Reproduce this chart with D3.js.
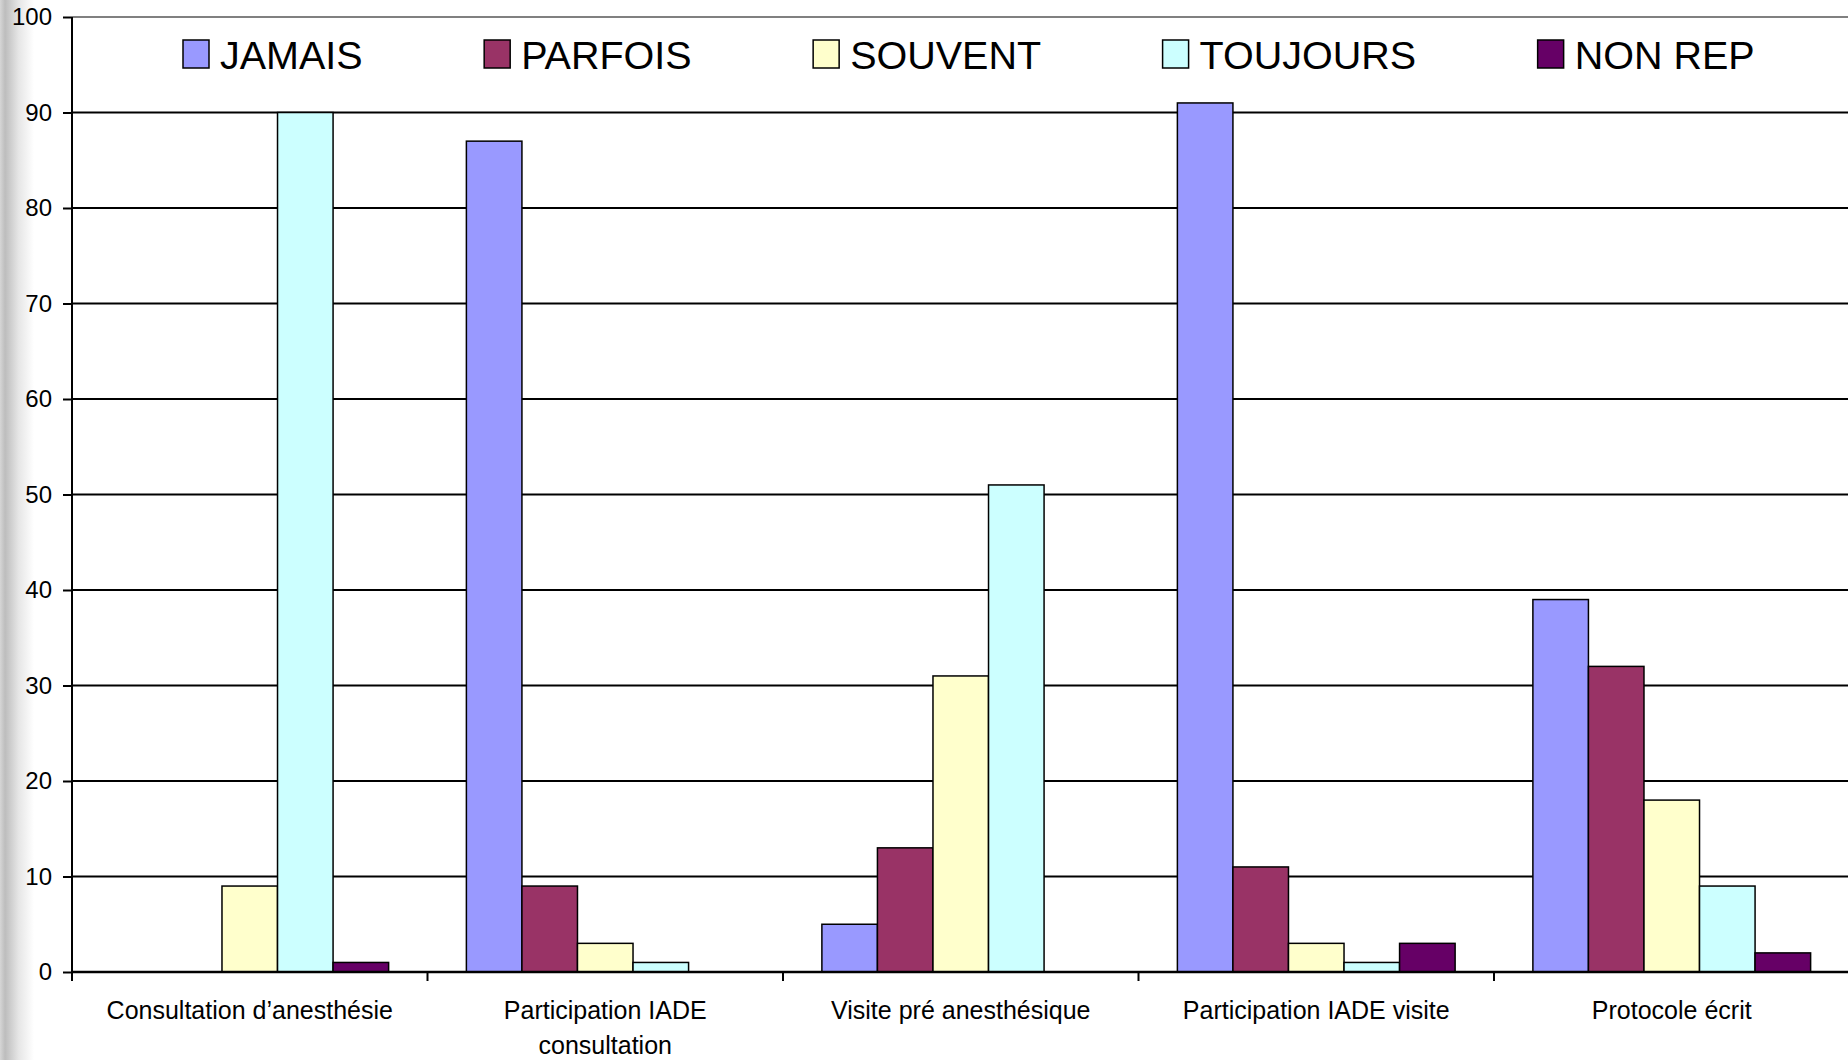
<!DOCTYPE html>
<html>
<head>
<meta charset="utf-8">
<script src="https://cdn.jsdelivr.net/npm/d3@7"></script>
<style>
  body { margin: 0; background: #fff; }
  text { font-family: "Liberation Sans", Arial, sans-serif; fill: #000; }
</style>
</head>
<body>
<div id="chart"></div>
<script>
var width = 1848;
var height = 1060;

// data
var categories = ['Consultation d\u2019anesthésie', 'Participation IADE consultation', 'Visite pré anesthésique', 'Participation IADE visite', 'Protocole écrit'];
var series = ['JAMAIS', 'PARFOIS', 'SOUVENT', 'TOUJOURS', 'NON REP'];
var colors = ['#9999ff', '#993366', '#ffffcc', '#ccffff', '#660066'];
var jamais = [0, 87, 5, 91, 39];
var parfois = [0, 9, 13, 11, 32];
var souvent = [9, 3, 31, 3, 18];
var toujours = [90, 1, 51, 1, 9];
var nonRep = [1, 0, 0, 3, 2];
var yTicks = [0, 10, 20, 30, 40, 50, 60, 70, 80, 90, 100];

var values = [jamais, parfois, souvent, toujours, nonRep];

// note: "top" is taken by window.top, so plotTop
var plotLeft = 72, plotTop = 17, plotBottom = 972;
var groupW = 355.5;

var svg = d3.select('#chart').append('svg')
  .attr('width', width)
  .attr('height', height);

// grey shade on the left edge
var grad = svg.append('defs').append('linearGradient')
  .attr('id', 'edge')
  .attr('x1', 0).attr('x2', 1).attr('y1', 0).attr('y2', 0);
grad.append('stop').attr('offset', 0).attr('stop-color', '#d6d6d6');
grad.append('stop').attr('offset', 0.15).attr('stop-color', '#bdbdbd');
grad.append('stop').attr('offset', 0.55).attr('stop-color', '#e6e6e6');
grad.append('stop').attr('offset', 1).attr('stop-color', '#ffffff');
svg.append('rect')
  .attr('x', 0).attr('y', 0)
  .attr('width', 34).attr('height', height)
  .attr('fill', 'url(#edge)');

var x0 = d3.scaleBand()
  .domain(categories)
  .range([plotLeft, plotLeft + groupW * categories.length]);

var x1 = d3.scaleBand()
  .domain(series)
  .range([0, x0.bandwidth()])
  .paddingOuter(0.7);

var y = d3.scaleLinear()
  .domain([0, 100])
  .range([plotBottom, plotTop]);

// gridlines
svg.append('g').selectAll('line')
  .data(yTicks.filter(d => d > 0))
  .enter().append('line')
  .attr('x1', plotLeft).attr('x2', width)
  .attr('y1', d => y(d)).attr('y2', d => y(d))
  .attr('stroke', d => d == 100 ? '#808080' : '#000')
  .attr('stroke-width', 2);

// bars
var bars = [];
categories.forEach((c, i) => {
  series.forEach((s, j) => {
    bars.push({cat: c, ser: s, value: values[j][i], color: colors[j]});
  });
});

svg.append('g').selectAll('rect')
  .data(bars.filter(d => d.value > 0))
  .enter().append('rect')
  .attr('x', d => x0(d.cat) + x1(d.ser))
  .attr('y', d => y(d.value))
  .attr('width', x1.bandwidth())
  .attr('height', d => y(0) - y(d.value))
  .attr('fill', d => d.color)
  .attr('stroke', '#000')
  .attr('stroke-width', 1.5);

// y axis
var yAxis = d3.axisLeft(y)
  .tickValues(yTicks)
  .tickSize(9)
  .tickPadding(11);
var gy = svg.append('g')
  .attr('transform', 'translate(' + plotLeft + ',0)')
  .call(yAxis);
gy.select('.domain').remove();
gy.selectAll('.tick line').attr('stroke', '#000').attr('stroke-width', 2);
gy.selectAll('.tick text')
  .attr('font-size', 24)
  .attr('font-family', '"Liberation Sans", Arial, sans-serif')
  .attr('fill', '#000');
svg.append('line')
  .attr('x1', plotLeft).attr('x2', plotLeft)
  .attr('y1', plotTop).attr('y2', plotBottom + 9)
  .attr('stroke', '#000').attr('stroke-width', 2);

// x axis
svg.append('line')
  .attr('x1', plotLeft).attr('x2', width)
  .attr('y1', plotBottom).attr('y2', plotBottom)
  .attr('stroke', '#000').attr('stroke-width', 2.5);

svg.append('g').selectAll('line')
  .data(categories.slice(1))
  .enter().append('line')
  .attr('x1', d => x0(d)).attr('x2', d => x0(d))
  .attr('y1', plotBottom).attr('y2', plotBottom + 9)
  .attr('stroke', '#000').attr('stroke-width', 2);

var xlab = svg.append('g').selectAll('text')
  .data(categories)
  .enter().append('text')
  .attr('x', d => x0(d) + x0.bandwidth() / 2)
  .attr('y', 1019)
  .attr('text-anchor', 'middle')
  .attr('font-size', 25)
  .text(d => d);

// wrap long labels
xlab.each(function(d) {
  var t = d3.select(this);
  if (this.getComputedTextLength() <= 320) return;
  var words = d.split(' ');
  var line = [];
  var cx = t.attr('x');
  t.text(null);
  var tspan = t.append('tspan').attr('x', cx).attr('dy', 0);
  words.forEach(w => {
    line.push(w);
    tspan.text(line.join(' '));
    if (tspan.node().getComputedTextLength() > 320 && line.length > 1) {
      line.pop();
      tspan.text(line.join(' '));
      line = [w];
      tspan = t.append('tspan').attr('x', cx).attr('dy', 35).text(w);
    }
  });
});

// legend
var legend = svg.append('g');
var lx = 183;
series.forEach((s, j) => {
  legend.append('rect')
    .attr('x', lx).attr('y', 40)
    .attr('width', 26).attr('height', 28)
    .attr('fill', colors[j])
    .attr('stroke', '#000')
    .attr('stroke-width', 1.5);
  var t = legend.append('text')
    .attr('x', lx + 37).attr('y', 69)
    .attr('font-size', 39.5)
    .text(s);
  lx = lx + 37 + t.node().getComputedTextLength() + 121.5;
});
</script>
</body>
</html>
